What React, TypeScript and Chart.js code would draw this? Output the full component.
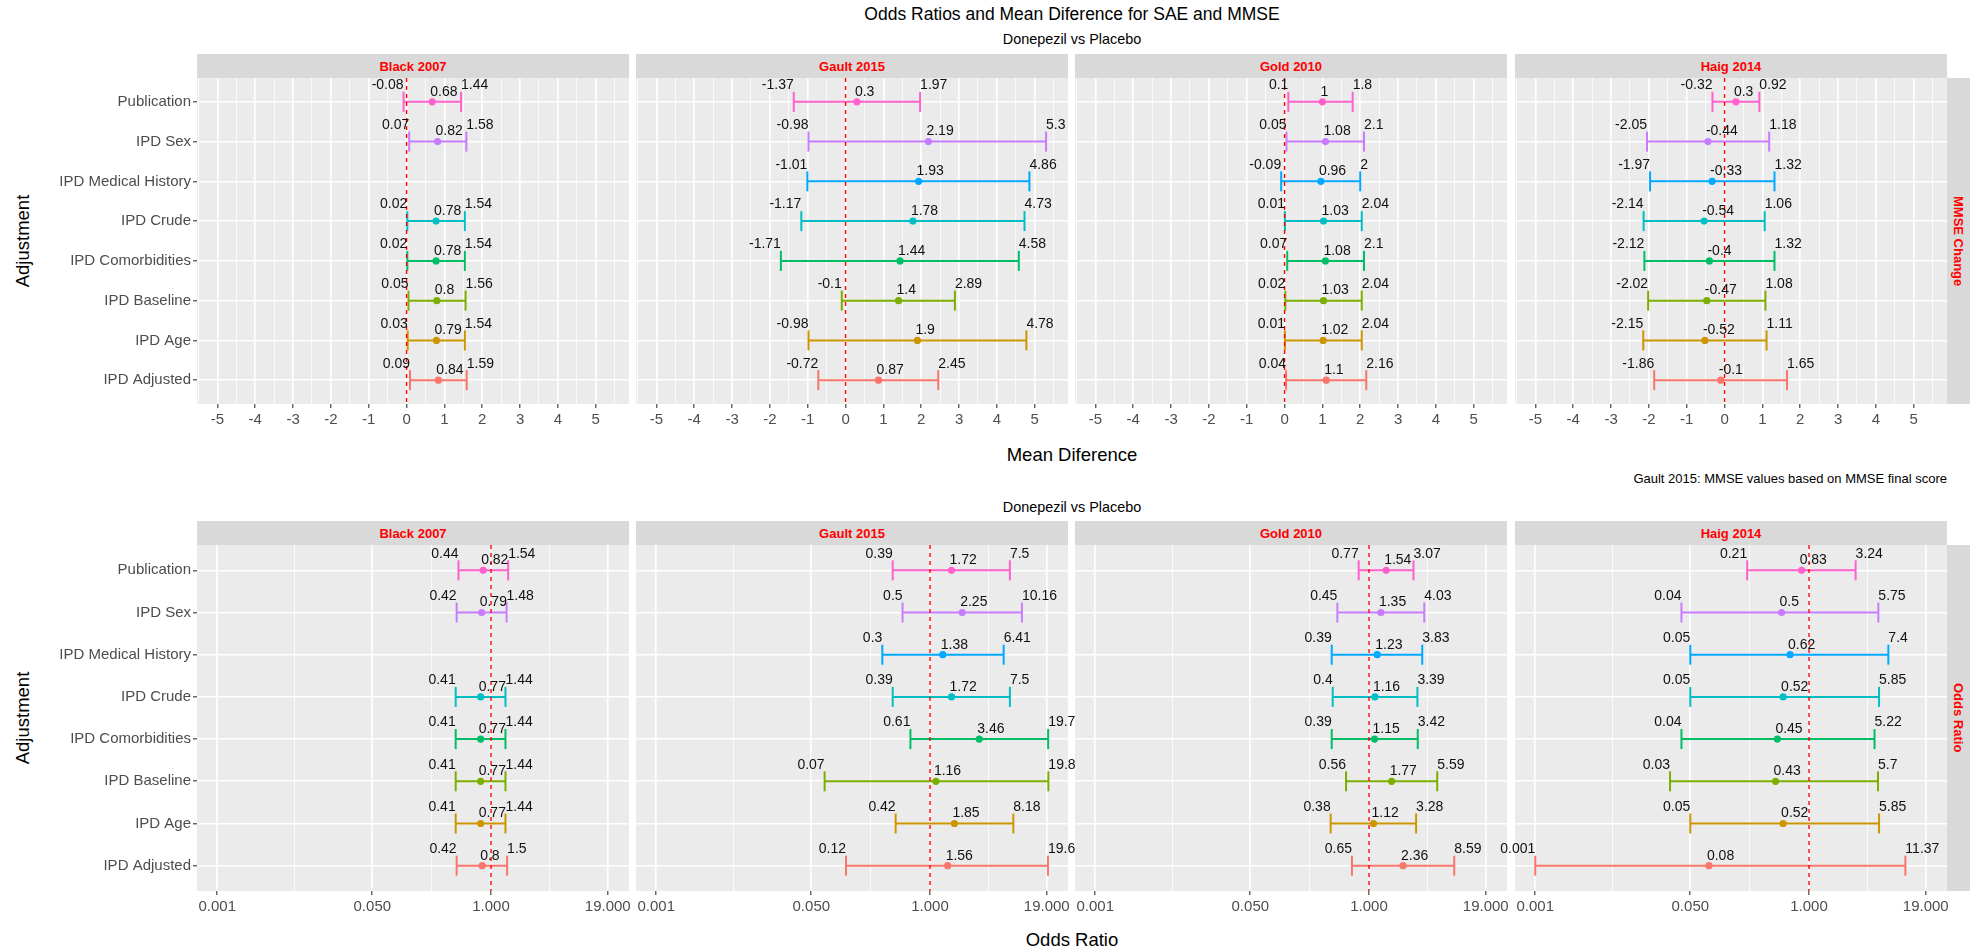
import React, { useEffect, useRef } from 'react';
import { Chart, registerables } from 'chart.js';

Chart.register(...registerables);

const FONT = "'Liberation Sans', Arial, Helvetica, sans-serif";

// ---------- data ----------
const CATEGORIES = [
  'Publication',
  'IPD Sex',
  'IPD Medical History',
  'IPD Crude',
  'IPD Comorbidities',
  'IPD Baseline',
  'IPD Age',
  'IPD Adjusted',
];
const COLORS = ['#FF61CC', '#C77CFF', '#00A9FF', '#00BFC4', '#00BE67', '#7CAE00', '#CD9600', '#F8766D'];
const STUDIES = ['Black 2007', 'Gault 2015', 'Gold 2010', 'Haig 2014'];

const MD_TICKS = [-5, -4, -3, -2, -1, 0, 1, 2, 3, 4, 5];
const OR_TICKS = [0.001, 0.05, 1, 19];
const OR_TICK_LABELS = ['0.001', '0.050', '1.000', '19.000'];

// Mean difference (MMSE change): lower, estimate, upper
const MD_BLACK_LO = [-0.08, 0.07, null, 0.02, 0.02, 0.05, 0.03, 0.09];
const MD_BLACK_EST = [0.68, 0.82, null, 0.78, 0.78, 0.8, 0.79, 0.84];
const MD_BLACK_HI = [1.44, 1.58, null, 1.54, 1.54, 1.56, 1.54, 1.59];
const MD_GAULT_LO = [-1.37, -0.98, -1.01, -1.17, -1.71, -0.1, -0.98, -0.72];
const MD_GAULT_EST = [0.3, 2.19, 1.93, 1.78, 1.44, 1.4, 1.9, 0.87];
const MD_GAULT_HI = [1.97, 5.3, 4.86, 4.73, 4.58, 2.89, 4.78, 2.45];
const MD_GOLD_LO = [0.1, 0.05, -0.09, 0.01, 0.07, 0.02, 0.01, 0.04];
const MD_GOLD_EST = [1, 1.08, 0.96, 1.03, 1.08, 1.03, 1.02, 1.1];
const MD_GOLD_HI = [1.8, 2.1, 2, 2.04, 2.1, 2.04, 2.04, 2.16];
const MD_HAIG_LO = [-0.32, -2.05, -1.97, -2.14, -2.12, -2.02, -2.15, -1.86];
const MD_HAIG_EST = [0.3, -0.44, -0.33, -0.54, -0.4, -0.47, -0.52, -0.1];
const MD_HAIG_HI = [0.92, 1.18, 1.32, 1.06, 1.32, 1.08, 1.11, 1.65];

// Odds ratio (SAE): lower, estimate, upper
const OR_BLACK_LO = [0.44, 0.42, null, 0.41, 0.41, 0.41, 0.41, 0.42];
const OR_BLACK_EST = [0.82, 0.79, null, 0.77, 0.77, 0.77, 0.77, 0.8];
const OR_BLACK_HI = [1.54, 1.48, null, 1.44, 1.44, 1.44, 1.44, 1.5];
const OR_GAULT_LO = [0.39, 0.5, 0.3, 0.39, 0.61, 0.07, 0.42, 0.12];
const OR_GAULT_EST = [1.72, 2.25, 1.38, 1.72, 3.46, 1.16, 1.85, 1.56];
const OR_GAULT_HI = [7.5, 10.16, 6.41, 7.5, 19.7, 19.8, 8.18, 19.6];
const OR_GOLD_LO = [0.77, 0.45, 0.39, 0.4, 0.39, 0.56, 0.38, 0.65];
const OR_GOLD_EST = [1.54, 1.35, 1.23, 1.16, 1.15, 1.77, 1.12, 2.36];
const OR_GOLD_HI = [3.07, 4.03, 3.83, 3.39, 3.42, 5.59, 3.28, 8.59];
const OR_HAIG_LO = [0.21, 0.04, 0.05, 0.05, 0.04, 0.03, 0.05, 0.001];
const OR_HAIG_EST = [0.83, 0.5, 0.62, 0.52, 0.45, 0.43, 0.52, 0.08];
const OR_HAIG_HI = [3.24, 5.75, 7.4, 5.85, 5.22, 5.7, 5.85, 11.37];

const MD_SETS = [
  [MD_BLACK_LO, MD_BLACK_EST, MD_BLACK_HI],
  [MD_GAULT_LO, MD_GAULT_EST, MD_GAULT_HI],
  [MD_GOLD_LO, MD_GOLD_EST, MD_GOLD_HI],
  [MD_HAIG_LO, MD_HAIG_EST, MD_HAIG_HI],
];
const OR_SETS = [
  [OR_BLACK_LO, OR_BLACK_EST, OR_BLACK_HI],
  [OR_GAULT_LO, OR_GAULT_EST, OR_GAULT_HI],
  [OR_GOLD_LO, OR_GOLD_EST, OR_GOLD_HI],
  [OR_HAIG_LO, OR_HAIG_EST, OR_HAIG_HI],
];

// ---------- layout ----------
const PANEL_LEFTS = [197, 636, 1075, 1515];
const PANEL_W = 432;
const Y_AXIS_W = 197;
const X_AXIS_H = 30;
const LEFT_BLEED = 24;
const RIGHT_BLEED = 24;
const ROWS = {
  md: { stripTop: 54, top: 78, height: 326 },
  or: { stripTop: 521, top: 545, height: 346 },
};
const MD_RANGE = [-5.54, 5.88];
const OR_RANGE = [0.00061, 32.5];

function linWithMinor(ticks: number[]) {
  const out: number[] = [ticks[0] - (ticks[1] - ticks[0]) / 2];
  ticks.forEach((t, i) => {
    out.push(t);
    if (i < ticks.length - 1) out.push((t + ticks[i + 1]) / 2);
  });
  out.push(ticks[ticks.length - 1] + (ticks[1] - ticks[0]) / 2);
  return out;
}
function logWithMinor(ticks: number[]) {
  const out: number[] = [];
  ticks.forEach((t, i) => {
    out.push(t);
    if (i < ticks.length - 1) out.push(Math.sqrt(t * ticks[i + 1]));
  });
  return out;
}

type PanelProps = {
  kind: 'md' | 'or';
  col: number;
};

function Panel({ kind, col }: PanelProps) {
  const ref = useRef<HTMLCanvasElement | null>(null);
  const isOR = kind === 'or';
  const row = ROWS[kind];
  const showY = col === 0;
  const bleed = showY ? 0 : LEFT_BLEED;
  const left = showY ? 0 : PANEL_LEFTS[col] - bleed;
  const width = (showY ? PANEL_LEFTS[0] + PANEL_W : PANEL_W + bleed) + RIGHT_BLEED;
  const height = row.height + X_AXIS_H;

  useEffect(() => {
    const canvas = ref.current;
    if (!canvas) return;
    const [lo, est, hi] = (isOR ? OR_SETS : MD_SETS)[col];
    const majors = isOR ? OR_TICKS : MD_TICKS;
    const allTicks = isOR ? logWithMinor(OR_TICKS) : linWithMinor(MD_TICKS);
    const isMajor = (v: number | undefined) =>
      v !== undefined && majors.some((m) => Math.abs(m - v) < 1e-9);
    const refVal = isOR ? 1 : 0;
    const idx = CATEGORIES.map((_, i) => i).filter((i) => est[i] !== null);

    const datasets: any[] = [];
    datasets.push({
      type: 'line',
      data: [
        { x: refVal, y: -0.6 },
        { x: refVal, y: 7.6 },
      ],
      borderColor: '#FF0000',
      borderWidth: 1.4,
      borderDash: [4, 4],
      pointRadius: 0,
      showLine: true,
    });
    datasets.push({
      type: 'scatter',
      data: idx.map((i) => ({ x: est[i], y: i })),
      pointBackgroundColor: idx.map((i) => COLORS[i]),
      pointBorderColor: idx.map((i) => COLORS[i]),
      pointBorderWidth: 0,
      pointRadius: 3.6,
      showLine: false,
    });
    idx.forEach((i) => {
      datasets.push({
        type: 'line',
        data: [
          { x: lo[i], y: i },
          { x: hi[i], y: i },
        ],
        borderColor: COLORS[i],
        borderWidth: 2,
        pointStyle: 'line',
        pointRotation: 90,
        pointRadius: 10,
        pointBorderColor: COLORS[i],
        pointBorderWidth: 2,
        showLine: true,
      });
    });

    const bgPlugin = {
      id: 'panelBg',
      beforeDraw(chart: any) {
        const { ctx, chartArea } = chart;
        ctx.save();
        ctx.fillStyle = '#EBEBEB';
        ctx.fillRect(chartArea.left, chartArea.top, chartArea.right - chartArea.left, chartArea.bottom - chartArea.top);
        ctx.restore();
      },
    };
    const labelPlugin = {
      id: 'valueLabels',
      afterDatasetsDraw(chart: any) {
        const { ctx } = chart;
        const xs = chart.scales.x;
        const ys = chart.scales.y;
        ctx.save();
        ctx.font = `14px ${FONT}`;
        ctx.fillStyle = '#111111';
        ctx.textBaseline = 'middle';
        idx.forEach((i) => {
          const py = ys.getPixelForValue(i);
          ctx.textAlign = 'right';
          ctx.fillText(String(lo[i]), xs.getPixelForValue(lo[i] as number), py - 16.5);
          ctx.textAlign = 'left';
          ctx.fillText(String(hi[i]), xs.getPixelForValue(hi[i] as number), py - 16.5);
          ctx.fillText(String(est[i]), xs.getPixelForValue(est[i] as number) - 2, py - 10);
        });
        ctx.restore();
      },
    };

    const chart = new Chart(canvas, {
      type: 'scatter',
      data: { datasets },
      options: {
        animation: false,
        responsive: false,
        maintainAspectRatio: false,
        devicePixelRatio: 1,
        events: [],
        layout: { padding: { left: bleed, top: 0, right: RIGHT_BLEED, bottom: 0 }, autoPadding: false },
        plugins: {
          legend: { display: false },
          tooltip: { enabled: false },
          title: { display: false },
        },
        scales: {
          x: {
            type: isOR ? 'logarithmic' : 'linear',
            min: isOR ? OR_RANGE[0] : MD_RANGE[0],
            max: isOR ? OR_RANGE[1] : MD_RANGE[1],
            afterBuildTicks: (s: any) => {
              s.ticks = allTicks.map((v) => ({ value: v }));
            },
            afterFit: (s: any) => {
              s.height = X_AXIS_H;
              s.paddingLeft = 0;
              s.paddingRight = 0;
            },
            ticks: {
              autoSkip: false,
              maxRotation: 0,
              minRotation: 0,
              padding: 3,
              color: '#4D4D4D',
              font: { family: FONT, size: 15 },
              callback: (v: any) => {
                const k = majors.findIndex((m) => Math.abs(m - Number(v)) < 1e-9);
                if (k < 0) return '';
                return isOR ? OR_TICK_LABELS[k] : String(majors[k]);
              },
            },
            grid: {
              color: '#FFFFFF',
              lineWidth: (c: any) => (isMajor(c.tick?.value) ? 1.6 : 0.8),
              drawTicks: true,
              tickLength: 4,
              tickWidth: 1.1,
              tickColor: (c: any) => (isMajor(c.tick?.value) ? '#333333' : 'rgba(0,0,0,0)'),
            },
            border: { display: false },
          } as any,
          y: {
            type: 'linear',
            min: -0.6,
            max: 7.6,
            reverse: true,
            afterBuildTicks: (s: any) => {
              s.ticks = CATEGORIES.map((_, i) => ({ value: i }));
            },
            afterFit: (s: any) => {
              s.width = showY ? Y_AXIS_W : 0;
              s.paddingTop = 0;
              s.paddingBottom = 0;
            },
            ticks: {
              display: showY,
              autoSkip: false,
              padding: 2,
              color: '#4D4D4D',
              font: { family: FONT, size: 15 },
              callback: (v: any) => CATEGORIES[Number(v)] ?? '',
            },
            grid: {
              color: '#FFFFFF',
              lineWidth: 1.6,
              drawTicks: showY,
              tickLength: 4,
              tickWidth: 1.1,
              tickColor: '#333333',
            },
            border: { display: false },
          } as any,
        },
      } as any,
      plugins: [bgPlugin, labelPlugin],
    });
    return () => chart.destroy();
  }, [kind, col]);

  return (
    <canvas
      ref={ref}
      width={width}
      height={height}
      style={{ position: 'absolute', left, top: row.top, width, height }}
    />
  );
}

const textBase: React.CSSProperties = {
  position: 'absolute',
  fontFamily: FONT,
  lineHeight: 1,
  whiteSpace: 'nowrap',
  color: '#000000',
};

function CenterText({ x, y, size, children, rotate }: { x: number; y: number; size: number; children: React.ReactNode; rotate?: boolean }) {
  return (
    <div
      style={{
        ...textBase,
        left: x,
        top: y,
        fontSize: size,
        transform: `translate(-50%, -50%)${rotate ? ' rotate(-90deg)' : ''}`,
      }}
    >
      {children}
    </div>
  );
}

export default function App() {
  useEffect(() => {
    document.body.style.margin = '0';
  }, []);
  const panelCenter = (PANEL_LEFTS[0] + PANEL_LEFTS[3] + PANEL_W) / 2;
  const rightStripX = PANEL_LEFTS[3] + PANEL_W;

  const strips: React.ReactNode[] = [];
  (['md', 'or'] as const).forEach((kind) => {
    const row = ROWS[kind];
    STUDIES.forEach((s, c) => {
      strips.push(
        <div
          key={`${kind}-${c}`}
          style={{
            position: 'absolute',
            left: PANEL_LEFTS[c],
            top: row.stripTop,
            width: PANEL_W,
            height: row.top - row.stripTop,
            background: '#D9D9D9',
            display: 'flex',
            alignItems: 'center',
            justifyContent: 'center',
            fontFamily: FONT,
            fontWeight: 'bold',
            fontSize: 13,
            color: '#FF0000',
          }}
        >
          {s}
        </div>
      );
    });
    strips.push(
      <div
        key={`${kind}-right`}
        style={{
          position: 'absolute',
          left: rightStripX,
          top: row.top,
          width: 23,
          height: row.height,
          background: '#D9D9D9',
          display: 'flex',
          alignItems: 'center',
          justifyContent: 'center',
          fontFamily: FONT,
          fontWeight: 'bold',
          fontSize: 13,
          color: '#FF0000',
          writingMode: 'vertical-rl',
        }}
      >
        {kind === 'md' ? 'MMSE Change' : 'Odds Ratio'}
      </div>
    );
  });

  return (
    <div style={{ position: 'absolute', left: 0, top: 0, width: 1971, height: 952, background: '#FFFFFF', overflow: 'hidden' }}>
      <CenterText x={panelCenter} y={15} size={17.5}>Odds Ratios and Mean Diference for SAE and MMSE</CenterText>
      <CenterText x={panelCenter} y={39} size={14.4}>Donepezil vs Placebo</CenterText>
      <CenterText x={panelCenter} y={455} size={18.5}>Mean Diference</CenterText>
      <div style={{ ...textBase, right: 1971 - rightStripX, top: 478, fontSize: 13, transform: 'translateY(-50%)' }}>
        Gault 2015: MMSE values based on MMSE final score
      </div>
      <CenterText x={panelCenter} y={507} size={14.4}>Donepezil vs Placebo</CenterText>
      <CenterText x={panelCenter} y={940} size={18.5}>Odds Ratio</CenterText>
      <CenterText x={23} y={ROWS.md.top + ROWS.md.height / 2} size={18.5} rotate>Adjustment</CenterText>
      <CenterText x={23} y={ROWS.or.top + ROWS.or.height / 2} size={18.5} rotate>Adjustment</CenterText>
      {strips}
      {STUDIES.map((_, c) => (
        <Panel key={`md-${c}`} kind="md" col={c} />
      ))}
      {STUDIES.map((_, c) => (
        <Panel key={`or-${c}`} kind="or" col={c} />
      ))}
    </div>
  );
}
